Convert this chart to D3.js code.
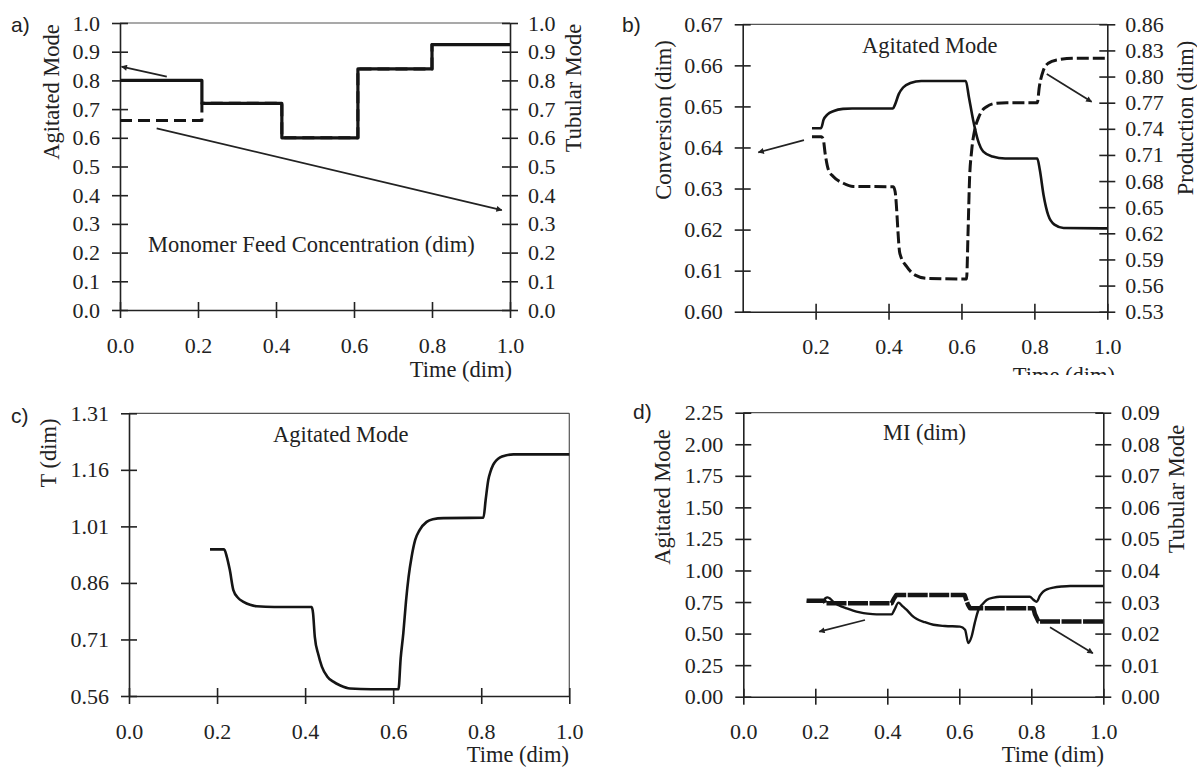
<!DOCTYPE html>
<html>
<head>
<meta charset="utf-8">
<script src="https://cdn.jsdelivr.net/npm/d3@7"></script>
<style>
body { margin: 0; background: #fff; }
svg text { font-family: "Liberation Serif", "Times New Roman", serif; fill: #222; }
svg text.tag { font-family: "Liberation Sans", Arial, sans-serif; }
</style>
</head>
<body>
<svg id="chart" width="1197" height="768"></svg>
<script>
// ---------- data ----------
var timeTicks = [0, 0.2, 0.4, 0.6, 0.8, 1.0];

// a) monomer feed concentration
var aTicks = [0, 0.1, 0.2, 0.3, 0.4, 0.5, 0.6, 0.7, 0.8, 0.9, 1.0];
var aAgitated = [[0, 0.80], [0.21, 0.80], [0.21, 0.72], [0.415, 0.72], [0.415, 0.60], [0.61, 0.60],
                 [0.61, 0.84], [0.80, 0.84], [0.80, 0.925], [1.0, 0.925]];
var aTubular = [[0, 0.66], [0.21, 0.66], [0.21, 0.72], [0.415, 0.72], [0.415, 0.60], [0.61, 0.60],
                [0.61, 0.84], [0.80, 0.84], [0.80, 0.925], [1.0, 0.925]];
var aArrowAgitated = [[0.12, 0.813], [0.004, 0.848]];
var aArrowTubular = [[0.094, 0.633], [0.979, 0.348]];

// b) conversion (left) and production (right)
var bConvTicks = [0.60, 0.61, 0.62, 0.63, 0.64, 0.65, 0.66, 0.67];
var bProdTicks = [0.53, 0.56, 0.59, 0.62, 0.65, 0.68, 0.71, 0.74, 0.77, 0.80, 0.83, 0.86];
var bConversion = [[0.19, 0.6447], [0.215, 0.6447], [0.222, 0.6468], [0.232, 0.6480], [0.25, 0.6489],
                   [0.275, 0.6494], [0.30, 0.6495], [0.412, 0.6495], [0.418, 0.6505], [0.428, 0.6530],
                   [0.44, 0.6546], [0.46, 0.6557], [0.49, 0.6562], [0.612, 0.6562], [0.62, 0.6525],
                   [0.632, 0.6467], [0.645, 0.6418], [0.66, 0.6390], [0.685, 0.6378], [0.72, 0.6373],
                   [0.808, 0.6373], [0.815, 0.6345], [0.825, 0.6285], [0.838, 0.6235], [0.855, 0.6212],
                   [0.88, 0.6204], [1.0, 0.6203]];
var bProduction = [[0.19, 0.731], [0.216, 0.731], [0.221, 0.728], [0.226, 0.712], [0.235, 0.693],
                   [0.249, 0.685], [0.276, 0.6775], [0.303, 0.6738], [0.413, 0.6735], [0.418, 0.668],
                   [0.431, 0.597], [0.45, 0.5817], [0.473, 0.572], [0.505, 0.5683], [0.614, 0.5675],
                   [0.618, 0.62], [0.622, 0.68], [0.628, 0.715], [0.636, 0.738], [0.646, 0.752],
                   [0.657, 0.761], [0.669, 0.7654], [0.69, 0.769], [0.724, 0.770], [0.808, 0.770],
                   [0.8135, 0.788], [0.8245, 0.807], [0.838, 0.8153], [0.861, 0.819], [0.916, 0.821],
                   [1.0, 0.821]];
var bArrowConv = [[0.168, 0.6418], [0.043, 0.6388]];
var bArrowProd = [[0.834, 0.803], [0.957, 0.771]];

// c) temperature
var cTicks = [0.56, 0.71, 0.86, 1.01, 1.16, 1.31];
var cTemp = [[0.184, 0.949], [0.216, 0.949], [0.222, 0.93], [0.229, 0.894], [0.237, 0.841], [0.248, 0.820],
             [0.26, 0.810], [0.275, 0.802], [0.29, 0.798], [0.33, 0.796], [0.415, 0.796], [0.418, 0.78],
             [0.422, 0.717], [0.43, 0.67], [0.438, 0.638], [0.45, 0.612], [0.464, 0.598], [0.48, 0.588],
             [0.502, 0.580], [0.55, 0.578], [0.612, 0.578], [0.617, 0.66], [0.623, 0.726], [0.629, 0.81],
             [0.635, 0.876], [0.642, 0.93], [0.65, 0.974], [0.66, 1.000], [0.676, 1.022], [0.69, 1.029],
             [0.714, 1.032], [0.805, 1.033], [0.81, 1.08], [0.816, 1.133], [0.821, 1.155], [0.827, 1.173],
             [0.835, 1.186], [0.843, 1.193], [0.855, 1.198], [0.873, 1.201], [1.0, 1.201]];

// d) melt index
var dAgiTicks = [0, 0.25, 0.5, 0.75, 1.0, 1.25, 1.5, 1.75, 2.0, 2.25];
var dTubTicks = [0, 0.01, 0.02, 0.03, 0.04, 0.05, 0.06, 0.07, 0.08, 0.09];
var dTubular = [[0.176, 0.0304], [0.225, 0.0304], [0.228, 0.0296], [0.412, 0.0296], [0.418, 0.0310],
                [0.425, 0.0322], [0.615, 0.0322], [0.619, 0.0308], [0.624, 0.0292], [0.63, 0.0280],
                [0.806, 0.0280], [0.81, 0.0262], [0.82, 0.0238], [1.0, 0.0238]];
var dAgitated = [[0.176, 0.752], [0.222, 0.752], [0.228, 0.78], [0.234, 0.787], [0.242, 0.775], [0.25, 0.752],
                 [0.265, 0.725], [0.287, 0.700], [0.305, 0.682], [0.324, 0.668], [0.345, 0.658], [0.37, 0.652],
                 [0.412, 0.652], [0.42, 0.690], [0.431, 0.745], [0.442, 0.718], [0.454, 0.687], [0.468, 0.645],
                 [0.482, 0.615], [0.505, 0.590], [0.528, 0.570], [0.56, 0.560], [0.602, 0.555], [0.616, 0.530],
                 [0.625, 0.425], [0.634, 0.475], [0.643, 0.585], [0.653, 0.687], [0.665, 0.735], [0.676, 0.766],
                 [0.695, 0.785], [0.713, 0.792], [0.796, 0.792], [0.805, 0.770], [0.815, 0.752], [0.824, 0.800],
                 [0.833, 0.832], [0.845, 0.852], [0.861, 0.864], [0.885, 0.873], [0.908, 0.877], [1.0, 0.877]];
var dArrowAgi = [[0.338, 0.608], [0.211, 0.515]];
var dArrowTub = [[0.852, 0.022], [0.971, 0.0138]];

// ---------- drawing ----------
var svg = d3.select("#chart");
svg.append("rect").attr("width", 1197).attr("height", 768).attr("fill", "#fff");

var defs = svg.append("defs");
defs.append("marker").attr("id", "head")
    .attr("viewBox", "0 0 10 10").attr("refX", 9).attr("refY", 5)
    .attr("markerUnits", "userSpaceOnUse")
    .attr("markerWidth", 9).attr("markerHeight", 6).attr("orient", "auto")
  .append("path").attr("d", "M0,0L10,5L0,10z").attr("fill", "#222");
defs.append("clipPath").attr("id", "topHalf")
  .append("rect").attr("x", 0).attr("y", 0).attr("width", 1197).attr("height", 375);

var FONT = "Liberation Serif, Times New Roman, serif";

function styleAxis(g, side) {
  g.attr("font-family", FONT).attr("font-size", 22);
  g.select(".domain").attr("stroke", "#222").attr("stroke-width", 1.6);
  g.selectAll(".tick line").attr("stroke", "#222").attr("stroke-width", 1.6);
  g.selectAll(".tick text").attr("fill", "#222");
  if (side === "left") g.selectAll(".tick line").attr("x1", 8);
  if (side === "right") g.selectAll(".tick line").attr("x1", -8);
  if (side === "bottom") g.selectAll(".tick line").attr("y1", -8);
}

// builds one panel frame and returns its scales
function panel(p) {
  var x = d3.scaleLinear().domain([0, 1]).range([p.x0, p.x1]);
  var yL = d3.scaleLinear().domain(p.leftDomain).range([p.yBot, p.yTop]);
  var yR = p.rightDomain ? d3.scaleLinear().domain(p.rightDomain).range([p.yBot, p.yTop]) : null;

  // top border (and right border when there is no right axis)
  svg.append("line").attr("x1", p.x0).attr("x2", p.x1).attr("y1", p.yTop).attr("y2", p.yTop)
     .attr("stroke", "#555").attr("stroke-width", 1.2);
  if (!yR) {
    svg.append("line").attr("x1", p.x1).attr("x2", p.x1).attr("y1", p.yTop).attr("y2", p.yBot)
       .attr("stroke", "#555").attr("stroke-width", 1.2);
  }

  svg.append("g").attr("transform", "translate(0," + p.yBot + ")")
     .call(d3.axisBottom(x).tickValues(p.xTicks).tickFormat(d3.format(".1f"))
             .tickSize(8).tickSizeOuter(0).tickPadding(19))
     .call(styleAxis, "bottom");

  svg.append("g").attr("transform", "translate(" + p.x0 + ",0)")
     .call(d3.axisLeft(yL).tickValues(p.leftTicks).tickFormat(d3.format(p.leftFmt))
             .tickSize(8).tickSizeOuter(0).tickPadding(12))
     .call(styleAxis, "left");

  if (yR) {
    svg.append("g").attr("transform", "translate(" + p.x1 + ",0)")
       .call(d3.axisRight(yR).tickValues(p.rightTicks).tickFormat(d3.format(p.rightFmt))
               .tickSize(8).tickSizeOuter(0).tickPadding(10))
       .call(styleAxis, "right");
  }
  return {x: x, yL: yL, yR: yR};
}

function label(txt, x, y, opt) {
  opt = opt || {};
  var t = svg.append("text").text(txt)
     .attr("font-size", opt.size || 22.5)
     .attr("text-anchor", opt.anchor || "start");
  if (opt.rotate) t.attr("transform", "translate(" + x + "," + y + ") rotate(-90)");
  else t.attr("x", x).attr("y", y);
  if (opt.cls) t.attr("class", opt.cls);
  if (opt.clip) t.attr("clip-path", "url(#" + opt.clip + ")");
  return t;
}

function drawLine(data, x, y, style, curve) {
  var line = d3.line().x(function(d) { return x(d[0]); }).y(function(d) { return y(d[1]); })
               .curve(curve || d3.curveLinear);
  svg.append("path").datum(data).attr("d", line)
     .attr("fill", "none").attr("stroke", style.color || "#151515")
     .attr("stroke-width", style.width).attr("stroke-dasharray", style.dash || null)
     .attr("stroke-linejoin", "round");
}

function drawArrow(pts, x, y) {
  svg.append("line")
     .attr("x1", x(pts[0][0])).attr("y1", y(pts[0][1]))
     .attr("x2", x(pts[1][0])).attr("y2", y(pts[1][1]))
     .attr("stroke", "#222").attr("stroke-width", 1.7).attr("marker-end", "url(#head)");
}

// ---- a) ----
var A = panel({x0: 120, x1: 510, yTop: 23, yBot: 310, xTicks: timeTicks,
               leftDomain: [0, 1], leftTicks: aTicks, leftFmt: ".1f",
               rightDomain: [0, 1], rightTicks: aTicks, rightFmt: ".1f"});
drawLine(aTubular, A.x, A.yR, {width: 3, dash: "12,6"});
drawLine(aAgitated, A.x, A.yL, {width: 3.2});
drawArrow(aArrowAgitated, A.x, A.yL);
drawArrow(aArrowTubular, A.x, A.yR);
label("a)", 11, 32, {cls: "tag", size: 21});
label("Agitated Mode", 59, 92, {rotate: true, anchor: "middle"});
label("Tubular Mode", 581, 88, {rotate: true, anchor: "middle"});
label("Monomer Feed Concentration (dim)", 148, 252);
label("Time (dim)", 512, 377, {anchor: "end"});

// ---- b) ----
var B = panel({x0: 742.7, x1: 1107.3, yTop: 24.3, yBot: 311.7, xTicks: timeTicks.slice(1),
               leftDomain: [0.60, 0.67], leftTicks: bConvTicks, leftFmt: ".2f",
               rightDomain: [0.53, 0.86], rightTicks: bProdTicks, rightFmt: ".2f"});
drawLine(bProduction, B.x, B.yR, {width: 3, dash: "12,4"}, d3.curveMonotoneX);
drawLine(bConversion, B.x, B.yL, {width: 2.6}, d3.curveMonotoneX);
drawArrow(bArrowConv, B.x, B.yL);
drawArrow(bArrowProd, B.x, B.yR);
label("b)", 622, 32, {cls: "tag", size: 21});
label("Conversion (dim)", 671, 120, {rotate: true, anchor: "middle"});
label("Production (dim)", 1193, 118, {rotate: true, anchor: "middle"});
label("Agitated Mode", 862, 53);
label("Time (dim)", 1115, 383, {anchor: "end", clip: "topHalf"});

// ---- c) ----
var C = panel({x0: 129, x1: 569.3, yTop: 413.3, yBot: 696, xTicks: timeTicks,
               leftDomain: [0.56, 1.31], leftTicks: cTicks, leftFmt: ".2f"});
drawLine(cTemp, C.x, C.yL, {width: 2.6}, d3.curveMonotoneX);
label("c)", 11, 423, {cls: "tag", size: 21});
label("T (dim)", 56, 453, {rotate: true, anchor: "middle"});
label("Agitated Mode", 273, 442);
label("Time (dim)", 569, 762, {anchor: "end"});

// ---- d) ----
var D = panel({x0: 743.3, x1: 1103.3, yTop: 412.7, yBot: 696.7, xTicks: timeTicks,
               leftDomain: [0, 2.25], leftTicks: dAgiTicks, leftFmt: ".2f",
               rightDomain: [0, 0.09], rightTicks: dTubTicks, rightFmt: ".2f"});
drawLine(dTubular, D.x, D.yR, {width: 4.5, dash: "20,1.5"});
drawLine(dAgitated, D.x, D.yL, {width: 2.4}, d3.curveMonotoneX);
drawArrow(dArrowAgi, D.x, D.yL);
drawArrow(dArrowTub, D.x, D.yR);
label("d)", 633, 419, {cls: "tag", size: 21});
label("Agitated Mode", 670, 497, {rotate: true, anchor: "middle"});
label("Tubular Mode", 1184, 489, {rotate: true, anchor: "middle"});
label("MI (dim)", 883, 440);
label("Time (dim)", 1104, 762, {anchor: "end"});
</script>
</body>
</html>
